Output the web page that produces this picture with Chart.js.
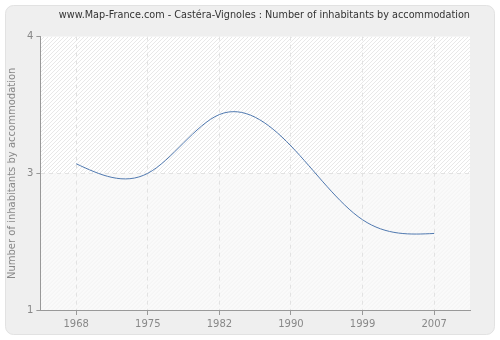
<!DOCTYPE html>
<html>
<head>
<meta charset="utf-8">
<script src="https://cdn.jsdelivr.net/npm/chart.js@4"></script>
<style>
  html, body { margin: 0; padding: 0; background: #ffffff; }
  #wrap { position: relative; width: 500px; height: 340px; }
  canvas { display: block; }
</style>
</head>
<body>
<div id="wrap"><canvas id="c" width="500" height="340"></canvas></div>
<script>
// Census years and average number of inhabitants per dwelling
const years = ['1968', '1975', '1982', '1990', '1999', '2007'];
const inhabitants = [2.57, 2.50, 2.93, 2.70, 2.16, 2.06];

// Y axis: three ticks with their printed labels
const yTickValues = [1.5, 2.5, 3.5];
const yTickLabels = ['1', '3', '4'];

const chartTitle = 'www.Map-France.com - Castéra-Vignoles : Number of inhabitants by accommodation';
const yAxisTitle = 'Number of inhabitants by accommodation';

// Rounded grey panel behind everything, hatched plot background
const backdrop = {
  id: 'backdrop',
  beforeDraw(chart) {
    const ctx = chart.ctx;
    const a = chart.chartArea;
    ctx.save();
    ctx.fillStyle = '#ffffff';
    ctx.fillRect(0, 0, chart.width, chart.height);
    ctx.beginPath();
    ctx.roundRect(5.5, 5.5, chart.width - 11, chart.height - 11, 8);
    ctx.fillStyle = '#efefef';
    ctx.fill();
    ctx.strokeStyle = '#e2e2e2';
    ctx.lineWidth = 1;
    ctx.stroke();

    const midY = chart.scales.y.getPixelForValue(yTickValues[1]);
    ctx.fillStyle = '#ffffff';
    ctx.fillRect(a.left, a.top, a.right - a.left, midY - a.top);
    ctx.fillStyle = '#fafafa';
    ctx.fillRect(a.left, midY, a.right - a.left, a.bottom - midY);

    const hatch = (top, bottom, color) => {
      ctx.save();
      ctx.beginPath();
      ctx.rect(a.left, top, a.right - a.left, bottom - top);
      ctx.clip();
      ctx.strokeStyle = color;
      ctx.lineWidth = 1;
      ctx.beginPath();
      const h = bottom - top;
      for (let x = a.left - h; x < a.right + h; x += 4) {
        ctx.moveTo(x, bottom);
        ctx.lineTo(x + h, top);
      }
      ctx.stroke();
      ctx.restore();
    };
    hatch(a.top, midY, '#e8e8e8');
    hatch(midY, a.bottom, '#f2f2f2');
    ctx.restore();
  }
};

// Natural cubic spline through the line's points: replaces the
// Bezier control points Chart.js computed for the line element.
const naturalSpline = {
  id: 'naturalSpline',
  beforeDatasetDraw(chart, args) {
    const meta = args.meta;
    const line = meta.dataset;
    line.updateControlPoints(chart.chartArea, 'x');
    const pts = meta.data;
    const n = pts.length;
    if (n < 3) return;
    const xs = pts.map(p => p.x), ys = pts.map(p => p.y);
    const h = [];
    for (let i = 0; i < n - 1; i++) h.push(xs[i + 1] - xs[i]);
    // solve tridiagonal system for second derivatives M (M0 = Mn = 0)
    const a = new Array(n).fill(0), b = new Array(n).fill(1),
          c = new Array(n).fill(0), d = new Array(n).fill(0);
    for (let i = 1; i < n - 1; i++) {
      a[i] = h[i - 1];
      b[i] = 2 * (h[i - 1] + h[i]);
      c[i] = h[i];
      d[i] = 6 * ((ys[i + 1] - ys[i]) / h[i] - (ys[i] - ys[i - 1]) / h[i - 1]);
    }
    for (let i = 1; i < n; i++) {
      const m = a[i] / b[i - 1];
      b[i] -= m * c[i - 1];
      d[i] -= m * d[i - 1];
    }
    const M = new Array(n).fill(0);
    M[n - 1] = d[n - 1] / b[n - 1];
    for (let i = n - 2; i >= 0; i--) M[i] = (d[i] - c[i] * M[i + 1]) / b[i];
    const slope = [];
    for (let i = 0; i < n - 1; i++) {
      slope.push((ys[i + 1] - ys[i]) / h[i] - h[i] * (2 * M[i] + M[i + 1]) / 6);
    }
    slope.push((ys[n - 1] - ys[n - 2]) / h[n - 2] + h[n - 2] * (M[n - 2] + 2 * M[n - 1]) / 6);
    for (let i = 0; i < n; i++) {
      const p = pts[i];
      const hl = i > 0 ? h[i - 1] / 3 : 0;
      const hr = i < n - 1 ? h[i] / 3 : 0;
      p.cp1x = xs[i] - hl; p.cp1y = ys[i] - slope[i] * hl;
      p.cp2x = xs[i] + hr; p.cp2y = ys[i] + slope[i] * hr;
    }
  }
};

new Chart(document.getElementById('c'), {
  type: 'line',
  data: {
    labels: years,
    datasets: [{
      data: inhabitants,
      borderColor: '#5079b0',
      borderWidth: 1,
      pointRadius: 0,
      tension: 0.4,
      capBezierPoints: false,
      fill: false
    }]
  },
  options: {
    responsive: false,
    animation: false,
    devicePixelRatio: 1,
    layout: { padding: { left: 6, right: 30, top: 6, bottom: 7 } },
    plugins: {
      legend: { display: false },
      tooltip: { enabled: false },
      title: {
        display: true,
        text: chartTitle,
        color: '#333333',
        font: { family: 'DejaVu Sans', size: 9.7, weight: 'normal' },
        padding: { top: 4, bottom: 15 },
        align: 'end'
      }
    },
    scales: {
      x: {
        type: 'category',
        offset: true,
        grid: {
          offset: false,
          color: '#e2e2e2',
          tickColor: '#999999',
          tickLength: 5,
          tickBorderDash: []
        },
        border: { display: true, color: '#999999', width: 1, dash: [4, 4] },
        ticks: {
          color: '#888888',
          font: { family: 'DejaVu Sans', size: 10 },
          padding: 3,
          maxRotation: 0
        }
      },
      y: {
        min: yTickValues[0],
        max: yTickValues[yTickValues.length - 1],
        afterBuildTicks(scale) {
          scale.ticks = yTickValues.map(v => ({ value: v }));
        },
        grid: {
          color: (c) => (c.tick && c.tick.value === yTickValues[1]) ? '#e2e2e2' : 'rgba(0,0,0,0)',
          tickColor: '#999999',
          tickLength: 4,
          tickBorderDash: []
        },
        border: { display: true, color: '#999999', width: 1, dash: [4, 4] },
        ticks: {
          color: '#888888',
          font: { family: 'DejaVu Sans', size: 10 },
          padding: 3,
          callback: (v) => {
            const i = yTickValues.indexOf(v);
            return i >= 0 ? yTickLabels[i] : '';
          }
        },
        title: {
          display: true,
          text: yAxisTitle,
          color: '#888888',
          font: { family: 'DejaVu Sans', size: 10 },
          padding: { top: 0, bottom: 6 }
        }
      }
    }
  },
  plugins: [backdrop, naturalSpline]
});
</script>
</body>
</html>
